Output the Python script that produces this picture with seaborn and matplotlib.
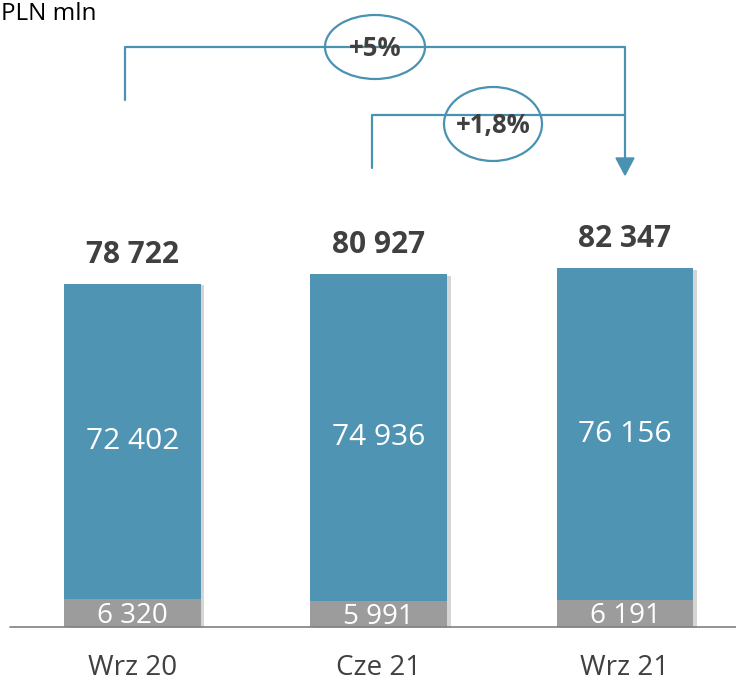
import matplotlib
matplotlib.use("Agg")
import matplotlib.pyplot as plt
import matplotlib.patheffects as pe
from matplotlib.patches import Ellipse, Polygon
from matplotlib.lines import Line2D
import seaborn as sns
import pandas as pd

# data
periods = ["Wrz 20", "Cze 21", "Wrz 21"]
bottom_vals = [6320, 5991, 6191]
top_vals = [72402, 74936, 76156]
totals = [78722, 80927, 82347]
growth_labels = ["+5%", "+1,8%"]
unit_label = "PLN mln"

teal = "#4f94b3"
grey = "#9c9c9c"
line_col = "#4a92b2"
dark = "#404040"

sns.set_style("white")
plt.rcParams["font.family"] = ["Open Sans", "DejaVu Sans"]

df = pd.DataFrame({"period": periods, "bottom": bottom_vals, "top": top_vals, "total": totals})

W, H = 736, 681
fig = plt.figure(figsize=(W / 100, H / 100), dpi=100)
ax = fig.add_axes([0, 0, 1, 1])

shadow = [pe.SimplePatchShadow(offset=(2.5, -1), shadow_rgbFace="#888888", alpha=0.35), pe.Normal()]

sns.barplot(data=df, x="period", y="total", color=teal, width=0.556, saturation=1, ax=ax)
n = len(ax.patches)
sns.barplot(data=df, x="period", y="bottom", color=grey, width=0.556, saturation=1, ax=ax)
for p in ax.patches:
    p.set_linewidth(0)
for p in ax.patches[:n]:
    p.set_path_effects(shadow)

# pixel based view
ppu = 343 / 78722.0
ax.set_ylim(-(H - 627) / ppu, 627 / ppu)
ax.set_xlim(-132.5 / 246.25, 2 + (W - 625) / 246.25)
ax.axis("off")

# labels
for i, row in df.iterrows():
    ax.annotate(f"{row['total']:,}".replace(",", " "), (i, row["total"]), xytext=(0, 21),
                textcoords="offset points", ha="center", va="center",
                fontsize=21.5, fontweight="bold", color=dark)
    ax.text(i, row["bottom"] + row["top"] / 2, f"{row['top']:,}".replace(",", " "),
            ha="center", va="center", fontsize=21.5, color="white")
    ax.text(i, row["bottom"] / 2 - 600, f"{row['bottom']:,}".replace(",", " "),
            ha="center", va="center", fontsize=20, color="white")
    ax.text(i, -41 / ppu, row["period"], ha="center", va="center", fontsize=20, color=dark)


def px(x, y):
    return x / W, 1 - y / H


tr = ax.transAxes
# baseline
ax.add_line(Line2D(*zip(px(10, 627), px(W, 627)), transform=tr, color="#808080", lw=1.2))

# outer bracket
xs, ys = zip(px(125, 100), px(125, 47), px(625, 47), px(625, 162))
ax.add_line(Line2D(xs, ys, transform=tr, color=line_col, lw=1.6))
# inner bracket
xs, ys = zip(px(372, 168), px(372, 115), px(625, 115))
ax.add_line(Line2D(xs, ys, transform=tr, color=line_col, lw=1.6))
# arrow head
ax.add_patch(Polygon([px(616, 158), px(634, 158), px(625, 175)], closed=True,
                     transform=tr, color=line_col))

for (cx, cy, w, h), lab in zip([(375, 47, 100, 64), (493, 124, 98, 74)], growth_labels):
    ax.add_patch(Ellipse(px(cx, cy), w / W, h / H, transform=tr, facecolor="white",
                         edgecolor=line_col, lw=1.6))
    ax.text(*px(cx, cy + 2), lab, transform=tr, ha="center", va="center",
            fontsize=18.5, fontweight="bold", color=dark)

ax.text(*px(1, 14), unit_label, transform=tr, ha="left", va="center", fontsize=17.5, color="black")

fig.savefig("out.png", dpi=100)
